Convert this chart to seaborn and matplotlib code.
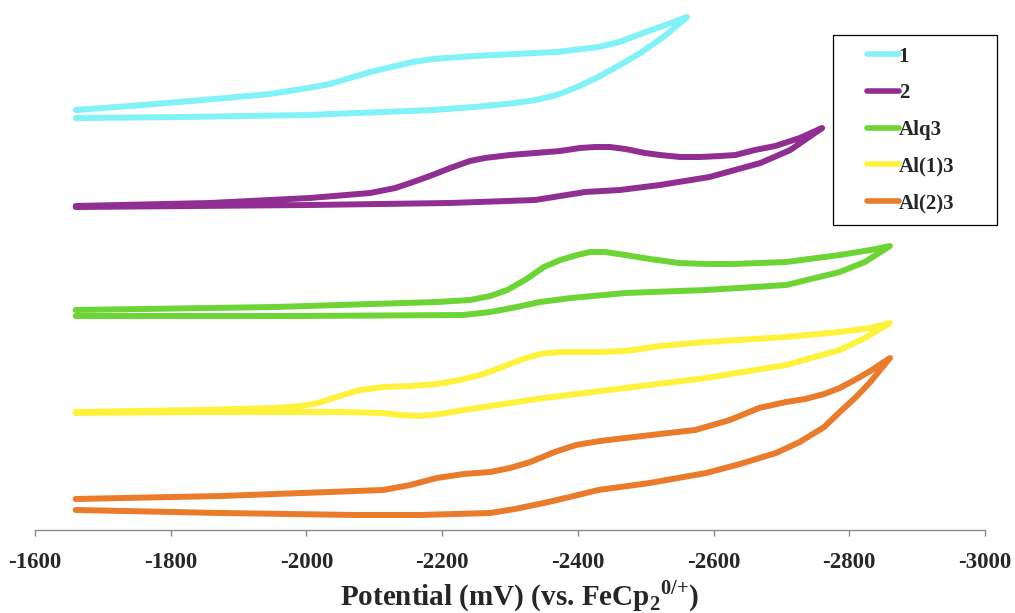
import numpy as np
import pandas as pd
import matplotlib
matplotlib.use("Agg")
import matplotlib.pyplot as plt
from matplotlib.lines import Line2D
from matplotlib.legend_handler import HandlerLine2D
import seaborn as sns

# Cyclic voltammograms (stacked, arbitrary current offsets), potential in mV vs FeCp2(0/+)
# each scan: cathodic sweep (fwd) followed by the return sweep (rev)
e_1_fwd = [-1660, -1759, -1881, -1946, -2002, -2035, -2064, -2094, -2125, -2156, -2187, -2247,
           -2307, -2369, -2430, -2461, -2492, -2521, -2561]
i_1_fwd = [420, 425, 432, 436, 442, 446, 452, 458, 463, 468, 471, 474,
           476, 478, 483, 488, 496, 503, 513]
e_1_rev = [-2561, -2528, -2492, -2462, -2430, -2399, -2369, -2338, -2307, -2248, -2187, -2002, -1820, -1660]
i_1_rev = [513, 494, 477, 465, 453, 443, 435, 430, 427, 423, 420, 415, 413, 412]

e_2_fwd = [-1660, -1858, -2005, -2094, -2131, -2153, -2182, -2212, -2241, -2263, -2300, -2337,
           -2374, -2403, -2425, -2447, -2470, -2499, -2521, -2551, -2580, -2610, -2632, -2661,
           -2691, -2727, -2760]
i_2_fwd = [324, 327, 332, 337, 342, 347, 354, 362, 369, 372, 375, 377,
           379, 382, 383, 383, 381, 377, 375, 373, 373, 374, 375, 380,
           384, 392, 402]
e_2_rev = [-2760, -2713, -2669, -2594, -2521, -2462, -2411, -2374, -2337, -2212, -2005, -1660]
i_2_rev = [402, 380, 367, 353, 345, 340, 338, 334, 330, 327, 325, 323]

e_alq3_fwd = [-1660, -1954, -2192, -2241, -2271, -2296, -2322, -2350, -2374, -2399, -2418,
              -2440, -2470, -2506, -2549, -2589, -2629, -2707, -2786, -2831, -2860]
i_alq3_fwd = [220, 223, 228, 230, 234, 240, 250, 263, 270, 275, 278,
              278, 275, 271, 267, 266, 266, 268, 275, 280, 284]
e_alq3_rev = [-2860, -2823, -2786, -2707, -2589, -2470, -2390, -2344, -2310, -2271, -2231, -1991, -1660]
i_alq3_rev = [284, 268, 258, 245, 240, 237, 232, 228, 223, 218, 215, 214, 214]

e_al1_fwd = [-1660, -1843, -1954, -1991, -2017, -2049, -2079, -2113, -2153, -2192, -2226, -2256,
             -2285, -2315, -2344, -2374, -2430, -2470, -2521, -2589, -2707, -2786, -2831, -2860]
i_al1_fwd = [118, 120, 122, 124, 127, 134, 140, 143, 144, 146, 150, 155,
             162, 170, 176, 178, 178, 179, 184, 188, 193, 198, 202, 207]
e_al1_rev = [-2860, -2823, -2786, -2707, -2589, -2470, -2350, -2271, -2232, -2197, -2167, -2138,
             -2113, -2049, -1993, -1843, -1660]
i_al1_rev = [207, 192, 180, 165, 152, 142, 132, 124, 120, 116, 114, 115,
             117, 118, 118, 118, 117]

e_al2_fwd = [-1660, -1874, -2113, -2153, -2192, -2232, -2271, -2300, -2330, -2366, -2397, -2433,
             -2470, -2521, -2573, -2624, -2667, -2707, -2735, -2763, -2786, -2808, -2831, -2860]
i_al2_fwd = [31, 34, 40, 45, 52, 56, 58, 62, 68, 78, 85, 89,
             92, 96, 100, 110, 122, 128, 131, 136, 142, 150, 159, 172]
e_al2_rev = [-2860, -2831, -2810, -2786, -2763, -2727, -2692, -2639, -2589, -2506, -2430, -2388,
             -2350, -2307, -2271, -2167, -2073, -1874, -1660]
i_al2_rev = [172, 148, 133, 118, 103, 88, 77, 66, 57, 47, 40, 33,
             27, 21, 17, 15, 15, 17, 20]

samples = ["1", "2", "Alq3", "Al(1)3", "Al(2)3"]
colors = ["#80f2f8", "#902e92", "#6dd436", "#fff23c", "#e97b2b"]
ticks = [-1600, -1800, -2000, -2200, -2400, -2600, -2800, -3000]

scans = {
    "1": (e_1_fwd + e_1_rev, i_1_fwd + i_1_rev),
    "2": (e_2_fwd + e_2_rev, i_2_fwd + i_2_rev),
    "Alq3": (e_alq3_fwd + e_alq3_rev, i_alq3_fwd + i_alq3_rev),
    "Al(1)3": (e_al1_fwd + e_al1_rev, i_al1_fwd + i_al1_rev),
    "Al(2)3": (e_al2_fwd + e_al2_rev, i_al2_fwd + i_al2_rev),
}
frames = []
for name in samples:
    e, i = scans[name]
    frames.append(pd.DataFrame({"potential": e, "current": i, "sample": name,
                                "step": np.arange(len(e))}))
df = pd.concat(frames, ignore_index=True)

sns.set_style("white")
plt.rcParams["font.family"] = ["Liberation Serif", "DejaVu Serif"]
plt.rcParams["font.weight"] = "bold"
plt.rcParams["mathtext.fontset"] = "custom"
plt.rcParams["mathtext.rm"] = "Liberation Serif:bold"
plt.rcParams["mathtext.bf"] = "Liberation Serif:bold"

fig = plt.figure(figsize=(10.15, 6.13), dpi=100)
ax = fig.add_axes([35 / 1015, 83 / 613, 950 / 1015, 520 / 613])

sns.lineplot(data=df, x="potential", y="current", hue="sample", hue_order=samples,
             palette=colors, units="sample", estimator=None, sort=False,
             linewidth=4.3, solid_capstyle="round", solid_joinstyle="round",
             legend=False, ax=ax)

ax.set_xlim(-1600, -3000)
ax.set_ylim(0, 520)
ax.set_xticks(ticks)
ax.set_xticklabels([str(t) for t in ticks])
ax.set_yticks([])
ax.set_ylabel("")
for side in ("top", "right", "left"):
    ax.spines[side].set_visible(False)
ax.spines["bottom"].set_color("#8a8a8a")
ax.spines["bottom"].set_linewidth(1.0)
ax.tick_params(axis="x", direction="out", length=4, width=1.0, color="#8a8a8a",
               labelsize=16.5, pad=12, bottom=True)
for lab in ax.get_xticklabels():
    lab.set_fontweight("bold")

ax.set_xlabel(r"Potential (mV) (vs. FeCp$_{2}$$^{0/{+}}$)", fontsize=21,
              fontweight="bold", labelpad=4, x=0.51)

handles = [Line2D([], [], color=c, linewidth=4.0, solid_capstyle="round") for c in colors]
leg = ax.legend(handles, samples, loc="upper left",
                bbox_to_anchor=(833 / 1015, 1 - 35 / 613, 164 / 1015, 0),
                bbox_transform=fig.transFigure, mode="expand", borderaxespad=0,
                prop={"family": "Liberation Serif", "weight": "bold", "size": 15},
                handlelength=3.65, handletextpad=-1.05, borderpad=0.56,
                labelspacing=0.8, fancybox=False, frameon=True, framealpha=1,
                edgecolor="black",
                handler_map={Line2D: HandlerLine2D(marker_pad=1.05, numpoints=2)})
leg.get_frame().set_linewidth(0.9)

fig.savefig("out.png", dpi=100)
